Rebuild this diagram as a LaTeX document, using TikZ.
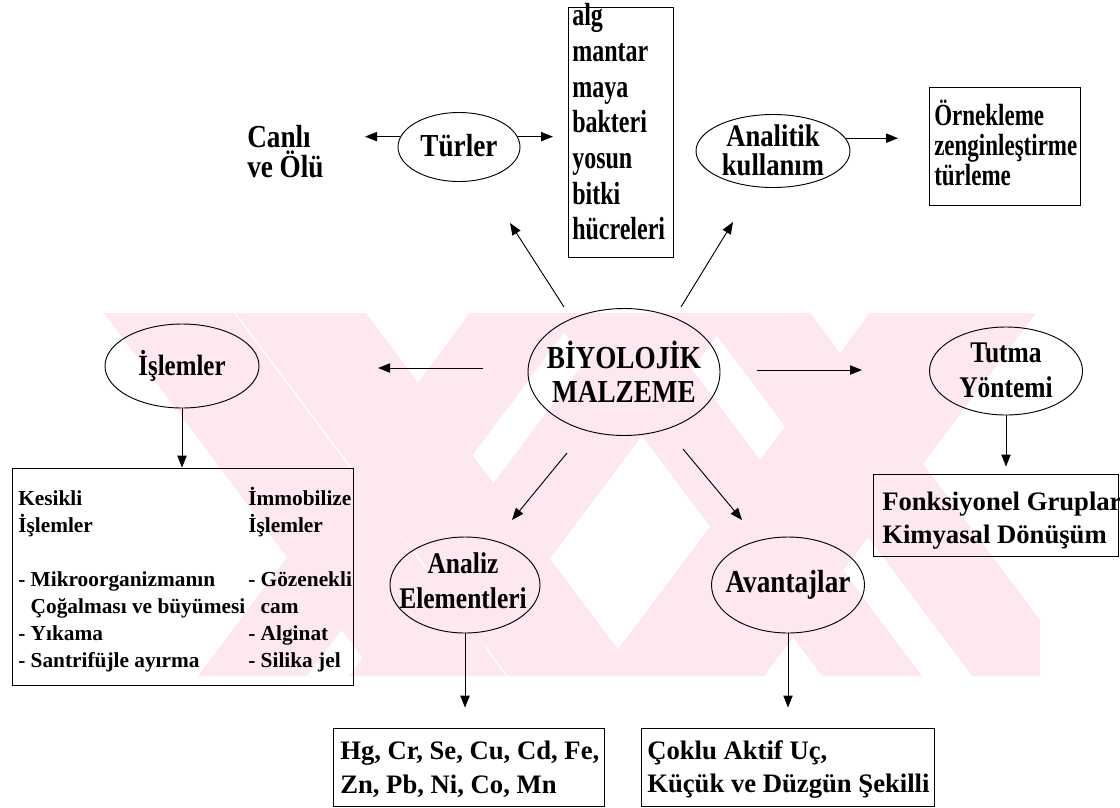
\documentclass[tikz,border=0pt]{standalone}
\usepackage{fontspec}
\setmainfont{Liberation Serif}
\newfontfamily\condA{Liberation Serif}[FakeStretch=0.85]
\newfontfamily\condB{Liberation Serif}[FakeStretch=0.75]
\usetikzlibrary{arrows.meta,shapes.geometric}
\definecolor{wm}{RGB}{253,232,237}
\newcommand\fbioA{\condA\fontsize{24}{25.5}\selectfont\bfseries}
\newcommand\fana{\condA\fontsize{23.5}{22}\selectfont\bfseries}
\newcommand\fcan{\condA\fontsize{24}{22.5}\selectfont\bfseries}
\newcommand\fmidA{\condA\fontsize{22.5}{26}\selectfont\bfseries}
\newcommand\fisl{\condA\fontsize{22}{26}\selectfont\bfseries}
\newcommand\fbx{\fontsize{20}{25}\selectfont\bfseries}
\newcommand\flist{\condB\fontsize{24}{26.75}\selectfont\bfseries}
\newcommand\forn{\condB\fontsize{23}{22.5}\selectfont\bfseries}
\newcommand\fsm{\fontsize{16}{20.25}\selectfont\bfseries}
\begin{document}
\begin{tikzpicture}[x=0.75pt,y=-0.75pt,
  ln/.style={line width=0.7pt},
  arr/.style={ln,-{Triangle[length=9pt,width=7pt]}},
  ell/.style={draw,ln,ellipse,inner sep=0pt},
  box/.style={draw,ln,inner sep=0pt},
  txt/.style={inner sep=0pt,align=center},
  ltxt/.style={inner sep=0pt,align=left,anchor=north west}]
\useasboundingbox (0,0) rectangle (1120,807);
% watermark
\begin{scope}
\clip (100,313) rectangle (1040,676);
\fill[wm] (104,313) -- (234,313) -- (506,676) -- (376,676) -- cycle;
\fill[wm] (236,313) -- (366,313) -- (638,676) -- (508,676) -- cycle;
\fill[wm] (550,313) -- (650,313) -- (922,676) -- (822,676) -- cycle;
\fill[wm] (700,313) -- (810,313) -- (1082,676) -- (972,676) -- cycle;
\fill[wm] (470,313) -- (579,313) -- (307,676) -- (198,676) -- cycle;
\fill[wm] (621,313) -- (734,313) -- (462,676) -- (349,676) -- cycle;
\fill[wm] (870,313) -- (1036,313) -- (764,676) -- (598,676) -- cycle;
\end{scope}
% ellipses
\node[ell,minimum width=91.5pt,minimum height=51.75pt] (tur) at (459,147) {};
\node[txt,font=\fbioA] (turt) at (459,146) {Türler};
\node[ell,minimum width=115.5pt,minimum height=54.75pt] (anl) at (773,151) {};
\node[txt,font=\fana] (anlt) at (773,150) {Analitik\\kullanım};
\node[ell,minimum width=144pt,minimum height=95.25pt] (bio) at (624,372) {};
\node[txt,font=\fbioA] (biot) at (bio) {BİYOLOJİK\\MALZEME};
\node[ell,minimum width=115.5pt,minimum height=63pt] (isl) at (182,366) {};
\node[txt,font=\fisl] (islt) at (isl) {İşlemler};
\node[ell,minimum width=114.75pt,minimum height=66pt] (tut) at (1006,371) {};
\node[txt,font=\fmidA] (tutt) at (1006,370) {Tutma\\Yöntemi};
\node[ell,minimum width=112.5pt,minimum height=72pt] (anz) at (465,585) {};
\node[txt,font=\fmidA] (anzt) at (463,581) {Analiz\\Elementleri};
\node[ell,minimum width=114.75pt,minimum height=72pt] (ava) at (788,585) {};
\node[txt,font=\fbioA] (avat) at (ava) {Avantajlar};
% free text
\node[ltxt,font=\fcan] (canli) at (247,125) {Canlı\\ve Ölü};
% boxes
\node[box,minimum width=78.75pt,minimum height=187.5pt] (lst) at (620.5,132) {};
\node[ltxt,font=\flist] (lstt) at (572,3.5) {alg\\mantar\\maya\\bakteri\\yosun\\bitki\\hücreleri};
\node[box,minimum width=113.25pt,minimum height=88.5pt] (orn) at (1004.5,146) {};
\node[ltxt,font=\forn] (ornt) at (934,100) {Örnekleme\\zenginleştirme\\türleme};
\node[box,minimum width=255.75pt,minimum height=162.75pt] (islbox) at (182.5,576.5) {};
\node[ltxt,font=\fsm] (islL) at (18,490.5) {Kesikli\\İşlemler\\\mbox{}\\- Mikroorganizmanın\\\hphantom{-\ }Çoğalması ve büyümesi\\- Yıkama\\- Santrifüjle ayırma};
\node[ltxt,font=\fsm] (islR) at (248,487) {İmmobilize\\İşlemler\\\mbox{}\\- Gözenekli\\\hphantom{-\ }cam\\- Alginat\\- Silika jel};
\node[box,minimum width=183.75pt,minimum height=61.5pt] (fon) at (995.5,515) {};
\node[ltxt,font=\fbx] (font) at (882,491.5) {Fonksiyonel Gruplar\\Kimyasal Dönüşüm};
\node[box,minimum width=203.25pt,minimum height=58.5pt] (hg) at (468.5,767) {};
\node[ltxt,font=\fbx] (hgt) at (340,741) {Hg, Cr, Se, Cu, Cd, Fe,\\Zn, Pb, Ni, Co, Mn};
\node[box,minimum width=219.75pt,minimum height=58.5pt] (cok) at (787.5,767) {};
\node[ltxt,font=\fbx] (cokt) at (647,740.5) {Çoklu Aktif Uç,\\Küçük ve Düzgün Şekilli};
% free ends
\coordinate (c1) at (365,135);
\coordinate (c2) at (553,135);
\coordinate (c3) at (898,137);
\coordinate (u1s) at (564,307);
\coordinate (u1e) at (510,223);
\coordinate (u2s) at (681,307);
\coordinate (u2e) at (733,222);
\coordinate (hls) at (483,368);
\coordinate (hle) at (378,368);
\coordinate (hrs) at (757,370);
\coordinate (hre) at (862,370);
\coordinate (dls) at (567,453);
\coordinate (dle) at (512,520);
\coordinate (drs) at (683,449);
\coordinate (dre) at (742,520);
% connectors
\draw[arr] (tur.170) -- (tur.170 -| c1);
\draw[arr] (tur.10) -- (tur.10 -| c2);
\draw[arr] (anl.10) -- (anl.10 -| c3);
\draw[arr] (u1s) -- (u1e);
\draw[arr] (u2s) -- (u2e);
\draw[arr] (hls) -- (hle);
\draw[arr] (hrs) -- (hre);
\draw[arr] (dls) -- (dle);
\draw[arr] (drs) -- (dre);
\draw[arr] (isl.south) -- (isl.south |- islbox.north);
\draw[arr,shorten >=5.25pt] (tut.south) -- (tut.south |- fon.north);
\draw[arr,shorten >=15pt] (anz.south) -- (anz.south |- hg.north);
\draw[arr,shorten >=15pt] (ava.south) -- (ava.south |- cok.north);
\end{tikzpicture}
\end{document}
